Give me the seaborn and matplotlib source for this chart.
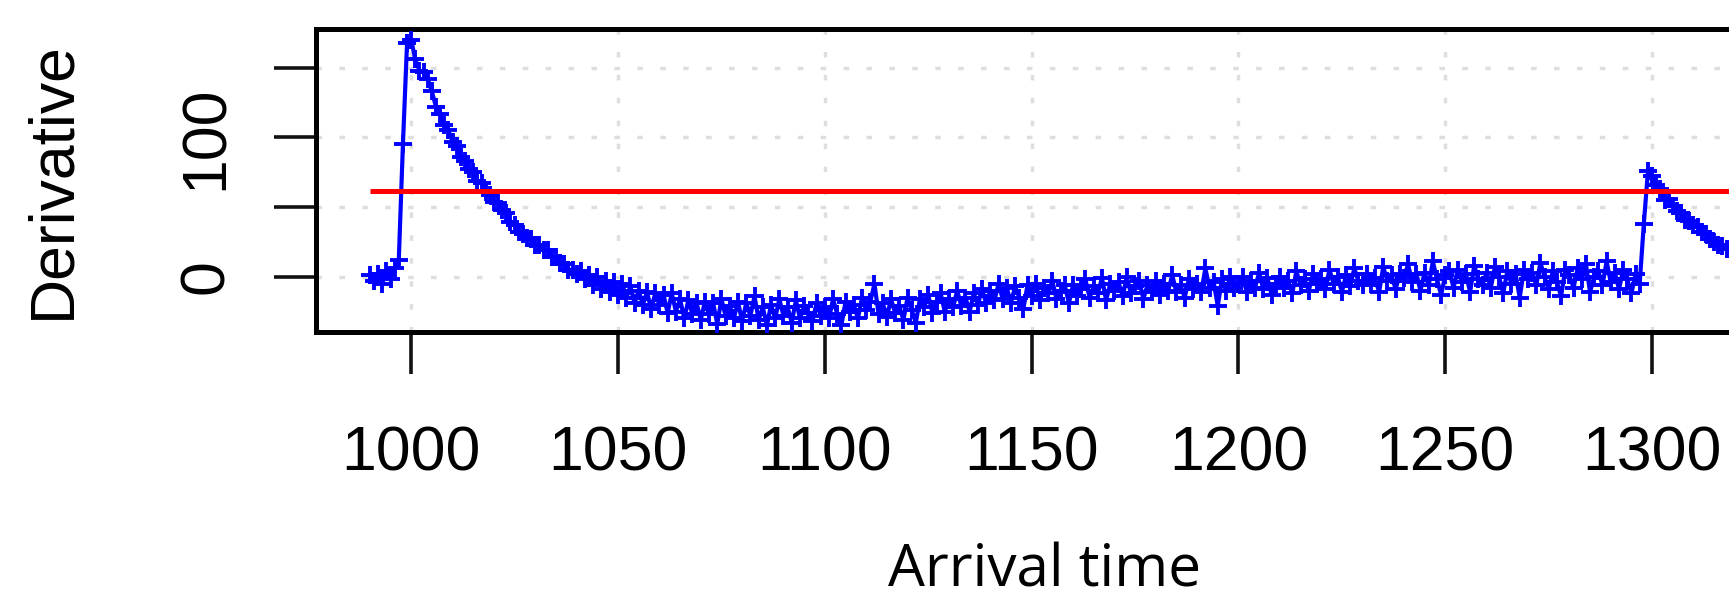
import pandas as pd
import seaborn as sns
from matplotlib import pyplot as plt

# arrival time (one sample per unit) and the derivative
arrival_time = list(range(990, 1319))
derivative = [
    1, -3, 2, -5, 4, -2, 6, 12, 95, 168,
    170, 156, 148, 147, 142, 133, 122, 117, 109, 105,
    97, 94, 86, 83, 77, 75, 69, 67, 61, 59,
    54, 53, 48, 46, 39, 37, 32, 31, 28, 27,
    23, 23, 19, 19, 14, 14, 10, 9, 5, 5,
    2, 4, -2, 1, -6, 0, -9, -3, -11, -4,
    -13, -5, -15, -7, -19, -10, -20, -11, -23, -12,
    -20, -13, -26, -12, -25, -16, -30, -17, -27, -19,
    -31, -18, -27, -19, -34, -16, -28, -21, -30, -18,
    -32, -19, -28, -14, -31, -22, -35, -20, -30, -16,
    -28, -22, -33, -17, -30, -21, -26, -32, -19, -28,
    -22, -30, -16, -27, -35, -18, -25, -20, -30, -15,
    -24, -18, -5, -27, -19, -29, -16, -26, -21, -31,
    -15, -24, -33, -16, -22, -13, -26, -18, -12, -25,
    -16, -22, -10, -21, -15, -25, -12, -20, -9, -19,
    -10, -17, -5, -16, -8, -19, -7, -15, -23, -6,
    -14, -5, -17, -8, -12, -3, -16, -10, -6, -19,
    -6, -14, -9, -2, -15, -7, -12, -1, -17, -5,
    -10, -4, -14, 0, -12, -7, -3, -16, -6, -11,
    -3, -13, -5, -10, 1, -11, -6, -15, -2, -9,
    -5, -11, 6, -8, -4, -21, -2, -10, 0, -8,
    -5, 0, -11, -3, -8, 3, -9, -1, -13, -5,
    0, -8, -3, -12, 4, -6, -2, -10, 2, -5,
    -2, -9, 5, -5, 0, -11, 1, -7, 6, -3,
    -6, 2, -5, -1, -11, 7, -3, 1, -9, 2,
    -1, 9, -4, 2, -10, 3, -6, 11, -2, -13,
    1, 4, -8, 5, -4, 2, -11, 8, -2, -6,
    3, -8, 7, 0, -12, 4, -5, 2, -15, 5,
    -2, 3, -6, 10, 0, -9, 4, -4, -14, 5,
    1, -8, 6, -2, 9, -11, 0, 4, -6, 11,
    -4, 3, -9, 5, -2, -12, 2, -5, 38, 76,
    72, 66, 63, 55, 56, 51, 47, 46, 41, 40,
    37, 36, 32, 31, 27, 25, 23, 22, 20,
]
threshold = 61.6

x_ticks = [1000, 1050, 1100, 1150, 1200, 1250, 1300]
y_ticks = [0, 50, 100, 150]
y_tick_labels = ["0", "", "100", ""]

data = pd.DataFrame({"Arrival time": arrival_time, "Derivative": derivative})

sns.set_style("ticks")
plt.rcParams["font.family"] = ["Liberation Sans", "DejaVu Sans"]
plt.rcParams["text.color"] = "black"
plt.rcParams["axes.labelcolor"] = "black"

fig = plt.figure(figsize=(17.29, 6.04), dpi=100)
ax = fig.add_axes([0.1828, 0.4508, 0.8421, 0.5015])

sns.lineplot(data=data, x="Arrival time", y="Derivative", ax=ax, estimator=None,
             color="#0000ff", lw=3, marker="+", markersize=13,
             markeredgewidth=2.8, markeredgecolor="#0000ff", zorder=3)

ax.set_xlim(977, 1329)
ax.set_ylim(-39.5, 178)
ax.hlines(threshold, arrival_time[0], ax.get_xlim()[1], color="#ff0000", lw=3.6, zorder=4)

ax.set_xticks(x_ticks)
ax.set_yticks(y_ticks, y_tick_labels)
for lbl in ax.get_yticklabels():
    lbl.set_rotation(90)
    lbl.set_va("center")

ax.tick_params(axis="both", length=30, width=2.6, color="#111111", labelcolor="black",
               labelsize=45, direction="out")
ax.tick_params(axis="x", pad=37)
ax.tick_params(axis="y", pad=28)

for spine in ax.spines.values():
    spine.set_visible(True)
    spine.set_linewidth(3.6)
    spine.set_color("black")

ax.grid(True, color="#dedede", linestyle=(0, (1.6, 5)), linewidth=2.5)
ax.set_axisbelow(True)

ax.set_ylabel("Derivative", fontsize=45)
ax.yaxis.set_label_coords(-0.1604, 0.5)
ax.set_xlabel("Arrival time", fontsize=42, family=["Open Sans", "DejaVu Sans"])
ax.xaxis.set_label_coords(0.5, -0.694)

plt.savefig("out.png", dpi=100)
